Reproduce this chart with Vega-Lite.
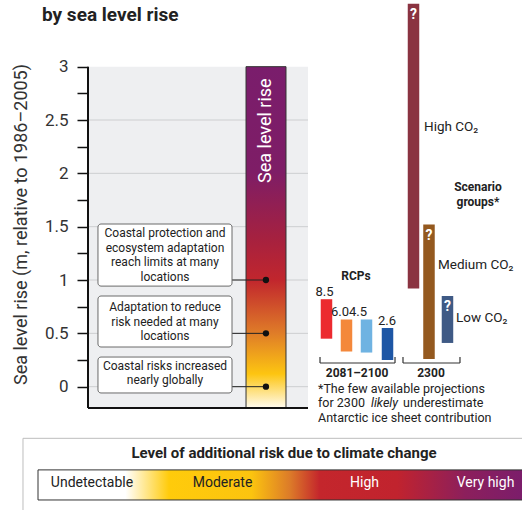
{
  "$schema": "https://vega.github.io/schema/vega-lite/v6.json",
  "width": 434,
  "height": 510,
  "autosize": {"type": "none"},
  "padding": {"left": 88, "top": 0, "right": 0, "bottom": 0},
  "config": {"font": "Roboto, sans-serif", "view": {"stroke": null}},
  "encoding": {
    "x": {"field": "x", "type": "quantitative", "scale": {"domain": [0, 100], "padding": 0, "nice": false, "zero": false}, "axis": null},
    "y": {"field": "y", "type": "quantitative", "scale": {"domain": [-1.156, 3.625], "nice": false, "zero": false, "padding": 0},
      "axis": {"values": [0, 0.25, 0.5, 0.75, 1, 1.25, 1.5, 1.75, 2, 2.25, 2.5, 2.75, 3],
        "labelExpr": "datum.value % 0.5 === 0 ? format(datum.value, '~g') : ''",
        "domain": false, "grid": false, "ticks": true, "tickSize": 11, "tickColor": "#111", "tickWidth": 1.5,
        "labelFontSize": 17, "labelColor": "#333", "labelPadding": 9, "labelFlush": false, "labelOverlap": false,
        "title": "Sea level rise (m, relative to 1986–2005)", "titleFontSize": 18, "titleFontWeight": "normal", "titleColor": "#333",
        "titleX": -58, "titleY": 224, "titleAngle": 270, "titleAlign": "center", "titleBaseline": "bottom"}}
  },
  "layer": [
    {
      "data": {"values": [{"t": "by sea level rise", "x": -10.6, "y": 3.427}]},
      "mark": {"type": "text", "fontSize": 19, "fontWeight": "bold", "color": "#222", "align": "left", "baseline": "alphabetic"},
      "encoding": {"text": {"field": "t"}}
    },
    {
      "data": {"values": [{"x": 0, "x2": 50.69, "y": -0.2, "y2": 3}]},
      "mark": {"type": "rect", "fill": "#eeeff1"},
      "encoding": {"x2": {"field": "x2"}, "y2": {"field": "y2"}}
    },
    {
      "data": {"values": [
        {"x": 0, "x2": 50.69, "y": 0, "y2": 0}, {"x": 0, "x2": 50.69, "y": 0.5, "y2": 0.5},
        {"x": 0, "x2": 50.69, "y": 1, "y2": 1}, {"x": 0, "x2": 50.69, "y": 1.5, "y2": 1.5},
        {"x": 0, "x2": 50.69, "y": 2, "y2": 2}, {"x": 0, "x2": 50.69, "y": 2.5, "y2": 2.5}
      ]},
      "mark": {"type": "rule", "color": "#cdced0", "strokeWidth": 1},
      "encoding": {"x2": {"field": "x2"}, "y2": {"field": "y2"}}
    },
    {
      "data": {"values": [{"x": 36.41, "x2": 45.62, "y": -0.2, "y2": 3}]},
      "mark": {"type": "rect", "stroke": "#333", "strokeWidth": 1,
        "fill": {"gradient": "linear", "x1": 0, "y1": 1, "x2": 0, "y2": 0,
          "stops": [{"offset": 0, "color": "#fffbee"}, {"offset": 0.1, "color": "#fdc511"}, {"offset": 0.22, "color": "#df7c28"}, {"offset": 0.375, "color": "#c1262d"}, {"offset": 0.5, "color": "#a52140"}, {"offset": 0.69, "color": "#7e1d66"}, {"offset": 1, "color": "#7a1d6c"}]}},
      "encoding": {"x2": {"field": "x2"}, "y2": {"field": "y2"}}
    },
    {
      "data": {"values": [{"x": 0, "x2": 0, "y": -0.2, "y2": 3}, {"x": 0, "x2": 50.69, "y": -0.2, "y2": -0.2}]},
      "mark": {"type": "rule", "color": "#111", "strokeWidth": 2},
      "encoding": {"x2": {"field": "x2"}, "y2": {"field": "y2"}}
    },
    {
      "data": {"values": [
        {"x": 33.18, "x2": 41.0, "y": 1.0, "y2": 1.0},
        {"x": 33.18, "x2": 41.0, "y": 0.5, "y2": 0.5},
        {"x": 33.18, "x2": 41.0, "y": 0.0, "y2": 0.0}
      ]},
      "layer": [
        {
          "mark": {"type": "rule", "color": "#222", "strokeWidth": 1},
          "encoding": {"x2": {"field": "x2"}, "y2": {"field": "y2"}}
        },
        {
          "mark": {"type": "point", "filled": true, "color": "#111", "size": 40, "opacity": 1},
          "encoding": {"x": {"field": "x2", "type": "quantitative"}}
        }
      ]
    },
    {
      "data": {"values": [
        {"x": 2.3, "x2": 33.18, "tx": 17.74, "bottom": 0.943, "top": 1.525, "ty": 1.44, "text": ["Coastal protection and", "ecosystem adaptation", "reach limits at many", "locations"]},
        {"x": 2.3, "x2": 33.18, "tx": 17.74, "bottom": 0.372, "top": 0.85, "ty": 0.747, "text": ["Adaptation to reduce", "risk needed at many", "locations"]},
        {"x": 2.3, "x2": 33.18, "tx": 17.74, "bottom": -0.059, "top": 0.278, "ty": 0.194, "text": ["Coastal risks increased", "nearly globally"]}
      ]},
      "layer": [
        {
          "mark": {"type": "rect", "fill": "white", "stroke": "#6b6b6b", "strokeWidth": 1, "cornerRadius": 3},
          "encoding": {"x2": {"field": "x2"}, "y": {"field": "bottom", "type": "quantitative"}, "y2": {"field": "top"}}
        },
        {
          "mark": {"type": "text", "fontSize": 12, "lineHeight": 14.5, "align": "center", "baseline": "middle", "color": "#222"},
          "encoding": {"x": {"field": "tx", "type": "quantitative"}, "y": {"field": "ty", "type": "quantitative"}, "text": {"field": "text"}}
        }
      ]
    },
    {
      "data": {"values": [{"label": "Sea level rise", "x": 41.0, "y": 2.4}]},
      "mark": {"type": "text", "angle": 270, "color": "white", "fontSize": 18, "align": "center", "baseline": "middle"},
      "encoding": {"text": {"field": "label"}}
    },
    {
      "data": {"values": [
        {"scenario": "RCP8.5", "label": "8.5", "period": "2081–2100", "x": 54.95, "lx": 54.49, "lo": 0.45, "hi": 0.82},
        {"scenario": "RCP6.0", "label": "6.0", "period": "2081–2100", "x": 59.56, "lx": 58.06, "lo": 0.33, "hi": 0.63},
        {"scenario": "RCP4.5", "label": "4.5", "period": "2081–2100", "x": 64.17, "lx": 62.21, "lo": 0.32, "hi": 0.63},
        {"scenario": "RCP2.6", "label": "2.6", "period": "2081–2100", "x": 69.01, "lx": 68.89, "lo": 0.25, "hi": 0.55},
        {"scenario": "High CO2", "label": "?", "period": "2300", "x": 75.0, "lx": 75.0, "lo": 0.92, "hi": 3.59},
        {"scenario": "Medium CO2", "label": "?", "period": "2300", "x": 78.57, "lx": 78.57, "lo": 0.26, "hi": 1.52},
        {"scenario": "Low CO2", "label": "?", "period": "2300", "x": 82.83, "lx": 82.83, "lo": 0.41, "hi": 0.85}
      ]},
      "layer": [
        {
          "mark": {"type": "bar", "width": 11.5},
          "encoding": {
            "y": {"field": "hi", "type": "quantitative"},
            "y2": {"field": "lo"},
            "color": {"field": "scenario", "type": "nominal", "legend": null,
              "scale": {"domain": ["RCP8.5", "RCP6.0", "RCP4.5", "RCP2.6", "High CO2", "Medium CO2", "Low CO2"],
                "range": ["#ec2a2f", "#f4883b", "#6fb3e2", "#1d56a5", "#8a3341", "#94591f", "#3f5a85"]}}
          }
        },
        {
          "transform": [{"filter": "datum.period === '2300'"}],
          "mark": {"type": "text", "color": "white", "fontWeight": "bold", "fontSize": 14, "align": "center", "baseline": "middle", "dy": 11},
          "encoding": {"y": {"field": "hi", "type": "quantitative"}, "text": {"field": "label"}}
        },
        {
          "transform": [{"filter": "datum.period !== '2300'"}],
          "mark": {"type": "text", "color": "#222", "fontSize": 13, "align": "center", "baseline": "alphabetic", "dy": -3},
          "encoding": {"x": {"field": "lx", "type": "quantitative"}, "y": {"field": "hi", "type": "quantitative"}, "text": {"field": "label"}}
        }
      ]
    },
    {
      "data": {"values": [
        {"t": "RCPs", "x": 61.75, "y": 1.04},
        {"t": "Scenario", "x": 89.86, "y": 1.87},
        {"t": "groups*", "x": 89.86, "y": 1.73},
        {"t": "2081–2100", "x": 62.0, "y": 0.128},
        {"t": "2300", "x": 79.03, "y": 0.128}
      ]},
      "mark": {"type": "text", "fontWeight": "bold", "fontSize": 12, "color": "#222", "align": "center", "baseline": "middle"},
      "encoding": {"text": {"field": "t"}}
    },
    {
      "data": {"values": [
        {"t": "High CO₂", "x": 77.42, "y": 2.43},
        {"t": "Medium CO₂", "x": 80.65, "y": 1.14},
        {"t": "Low CO₂", "x": 84.79, "y": 0.64}
      ]},
      "mark": {"type": "text", "fontSize": 13.5, "color": "#222", "align": "left", "baseline": "middle"},
      "encoding": {"text": {"field": "t"}}
    },
    {
      "data": {"values": [
        {"x": 53.46, "x2": 70.74, "y": 0.222, "y2": 0.222},
        {"x": 53.46, "x2": 53.46, "y": 0.222, "y2": 0.278},
        {"x": 70.74, "x2": 70.74, "y": 0.222, "y2": 0.278},
        {"x": 72.58, "x2": 85.71, "y": 0.222, "y2": 0.222},
        {"x": 72.58, "x2": 72.58, "y": 0.222, "y2": 0.278},
        {"x": 85.71, "x2": 85.71, "y": 0.222, "y2": 0.278}
      ]},
      "mark": {"type": "rule", "color": "#333", "strokeWidth": 1.2},
      "encoding": {"x2": {"field": "x2"}, "y2": {"field": "y2"}}
    },
    {
      "data": {"values": [
        {"t": "*The few available projections", "x": 53.0, "y": -0.017},
        {"t": "for 2300", "x": 53.0, "y": -0.153},
        {"t": "underestimate", "x": 72.6, "y": -0.153},
        {"t": "Antarctic ice sheet contribution", "x": 53.0, "y": -0.289}
      ]},
      "mark": {"type": "text", "fontSize": 12.5, "color": "#222", "align": "left", "baseline": "middle"},
      "encoding": {"text": {"field": "t"}}
    },
    {
      "data": {"values": [{"t": "likely", "x": 65.2, "y": -0.153}]},
      "mark": {"type": "text", "fontSize": 12.5, "fontStyle": "italic", "color": "#222", "align": "left", "baseline": "middle"},
      "encoding": {"text": {"field": "t"}}
    },
    {
      "data": {"values": [{"x": -14.98, "x2": 106, "y": -0.484, "y2": -1.5}]},
      "mark": {"type": "rect", "fill": "white", "stroke": "#bdbdbd", "strokeWidth": 1},
      "encoding": {"x2": {"field": "x2"}, "y2": {"field": "y2"}}
    },
    {
      "data": {"values": [{"t": "Level of additional risk due to climate change", "x": 45.16, "y": -0.621}]},
      "mark": {"type": "text", "fontSize": 15, "fontWeight": "bold", "color": "#222", "align": "center", "baseline": "middle"},
      "encoding": {"text": {"field": "t"}}
    },
    {
      "data": {"values": [{"x": -11.52, "x2": 100.3, "y": -0.78, "y2": -1.062}]},
      "mark": {"type": "rect", "stroke": "#333", "strokeWidth": 1,
        "fill": {"gradient": "linear", "x1": 0, "y1": 0, "x2": 1, "y2": 0,
          "stops": [{"offset": 0, "color": "#ffffff"}, {"offset": 0.18, "color": "#ffffff"}, {"offset": 0.27, "color": "#ffcb0b"}, {"offset": 0.44, "color": "#fcc40f"}, {"offset": 0.52, "color": "#dc7a29"}, {"offset": 0.58, "color": "#c4262c"}, {"offset": 0.74, "color": "#c1232e"}, {"offset": 0.88, "color": "#8c1f5c"}, {"offset": 1, "color": "#7b1d6b"}]}},
      "encoding": {"x2": {"field": "x2"}, "y2": {"field": "y2"}}
    },
    {
      "data": {"values": [
        {"t": "Undetectable", "x": 0.92, "y": -0.9, "tone": "dark"},
        {"t": "Moderate", "x": 30.99, "y": -0.9, "tone": "dark"},
        {"t": "High", "x": 63.71, "y": -0.9, "tone": "light"},
        {"t": "Very high", "x": 91.59, "y": -0.9, "tone": "light"}
      ]},
      "mark": {"type": "text", "fontSize": 14, "align": "center", "baseline": "middle"},
      "encoding": {
        "text": {"field": "t"},
        "color": {"field": "tone", "type": "nominal", "legend": null, "scale": {"domain": ["dark", "light"], "range": ["#222222", "#ffffff"]}}
      }
    }
  ],
  "resolve": {"scale": {"color": "independent"}}
}
